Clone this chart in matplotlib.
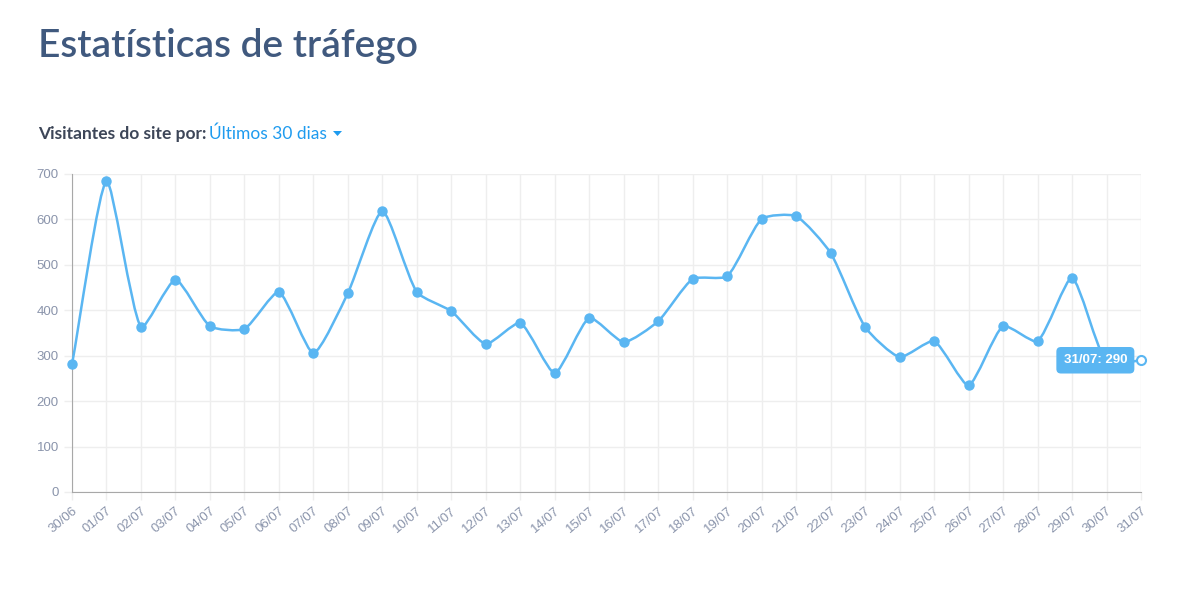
import matplotlib
matplotlib.use("Agg")
import matplotlib.pyplot as plt
from matplotlib.path import Path
from matplotlib.patches import PathPatch, Polygon
import numpy as np

# dados do grafico
dates = ["30/06", "01/07", "02/07", "03/07", "04/07", "05/07", "06/07", "07/07",
         "08/07", "09/07", "10/07", "11/07", "12/07", "13/07", "14/07", "15/07",
         "16/07", "17/07", "18/07", "19/07", "20/07", "21/07", "22/07", "23/07",
         "24/07", "25/07", "26/07", "27/07", "28/07", "29/07", "30/07", "31/07"]
visitors = [281, 684, 363, 467, 365, 359, 440, 306, 438, 618, 440, 398, 326, 372,
            262, 383, 330, 376, 469, 475, 601, 607, 526, 363, 297, 332, 235, 365,
            332, 471, 285, 290]
y_ticks = [0, 100, 200, 300, 400, 500, 600, 700]

LINE = "#5ab6f2"
TICK = "#8a94ab"
GRID = "#eeeeee"
BLUE = "#1e9bef"

fig = plt.figure(figsize=(12.01, 5.90), dpi=100)
ax = fig.add_axes([72 / 1201, 1 - 492 / 590, (1141 - 72) / 1201, (492 - 174) / 590])

x = np.arange(len(dates), dtype=float)
y = np.array(visitors, dtype=float)

# curva suavizada (bezier), distancias medidas em pixels
sx, sy = (1141 - 72) / 31, (492 - 174) / 700
tension = 0.2
cp_prev, cp_next = [], []
for i in range(len(x)):
    p0 = (x[max(i - 1, 0)], y[max(i - 1, 0)])
    p1 = (x[i], y[i])
    p2 = (x[min(i + 1, len(x) - 1)], y[min(i + 1, len(x) - 1)])
    d01 = np.hypot((p1[0] - p0[0]) * sx, (p1[1] - p0[1]) * sy)
    d12 = np.hypot((p2[0] - p1[0]) * sx, (p2[1] - p1[1]) * sy)
    tot = d01 + d12
    s01 = d01 / tot if tot else 0
    s12 = d12 / tot if tot else 0
    fa, fb = tension * s01, tension * s12
    cp_prev.append((p1[0] - fa * (p2[0] - p0[0]), p1[1] - fa * (p2[1] - p0[1])))
    cp_next.append((p1[0] + fb * (p2[0] - p0[0]), p1[1] + fb * (p2[1] - p0[1])))

verts = [(x[0], y[0])]
codes = [Path.MOVETO]
for i in range(1, len(x)):
    verts += [cp_next[i - 1], cp_prev[i], (x[i], y[i])]
    codes += [Path.CURVE4] * 3
ax.add_patch(PathPatch(Path(verts, codes), facecolor="none", edgecolor=LINE,
                       lw=1.8, zorder=3, clip_on=False))

ax.plot(x[:-1], y[:-1], "o", color=LINE, ms=6.5, zorder=4, clip_on=False)
ax.plot(x[-1], y[-1], "o", mfc="white", mec=LINE, mew=1.5, ms=6.5, zorder=5, clip_on=False)

ax.set_xlim(0, len(dates) - 1)
ax.set_ylim(0, 700)
ax.set_xticks(x)
ax.set_xticklabels(dates, rotation=40, ha="right", rotation_mode="anchor")
ax.set_yticks(y_ticks)
ax.grid(True, color=GRID, lw=1)
ax.set_axisbelow(True)
ax.tick_params(axis="both", colors=GRID, labelcolor=TICK, labelsize=9.5, length=6, width=1)
for lab in ax.get_xticklabels() + ax.get_yticklabels():
    lab.set_fontfamily("Liberation Sans")
for s in ["top", "right"]:
    ax.spines[s].set_visible(False)
for s in ["left", "bottom"]:
    ax.spines[s].set_color("#a8a8a8")

# tooltip
ax.annotate(f"{dates[-1]}: {visitors[-1]}", (x[-1], y[-1]), xytext=(-10, 0),
            textcoords="offset points", ha="right", va="center", color="white",
            fontsize=9.5, fontweight="bold", fontfamily="Liberation Sans", zorder=6,
            bbox=dict(boxstyle="round,pad=0.55,rounding_size=0.35", fc=LINE, ec="none"))

fig.text(38 / 1201, 1 - 57 / 590, "Estatísticas de tráfego", fontsize=28,
         color="#40597e", fontfamily="Lato", fontweight="semibold", va="baseline")
fig.text(38 / 1201, 1 - 139 / 590, "Visitantes do site por:", fontsize=12.5,
         color="#3d4658", fontfamily="Lato", fontweight="bold", va="baseline")
fig.text(209 / 1201, 1 - 139 / 590, "Últimos 30 dias", fontsize=12.5,
         color=BLUE, fontfamily="Lato", va="baseline")
# seta do dropdown
fig.add_artist(Polygon([(333 / 1201, 1 - 131 / 590), (342 / 1201, 1 - 131 / 590),
                        (337.5 / 1201, 1 - 136 / 590)], closed=True,
                       transform=fig.transFigure, fc=BLUE, ec="none"))

fig.savefig("out.png", dpi=100)
